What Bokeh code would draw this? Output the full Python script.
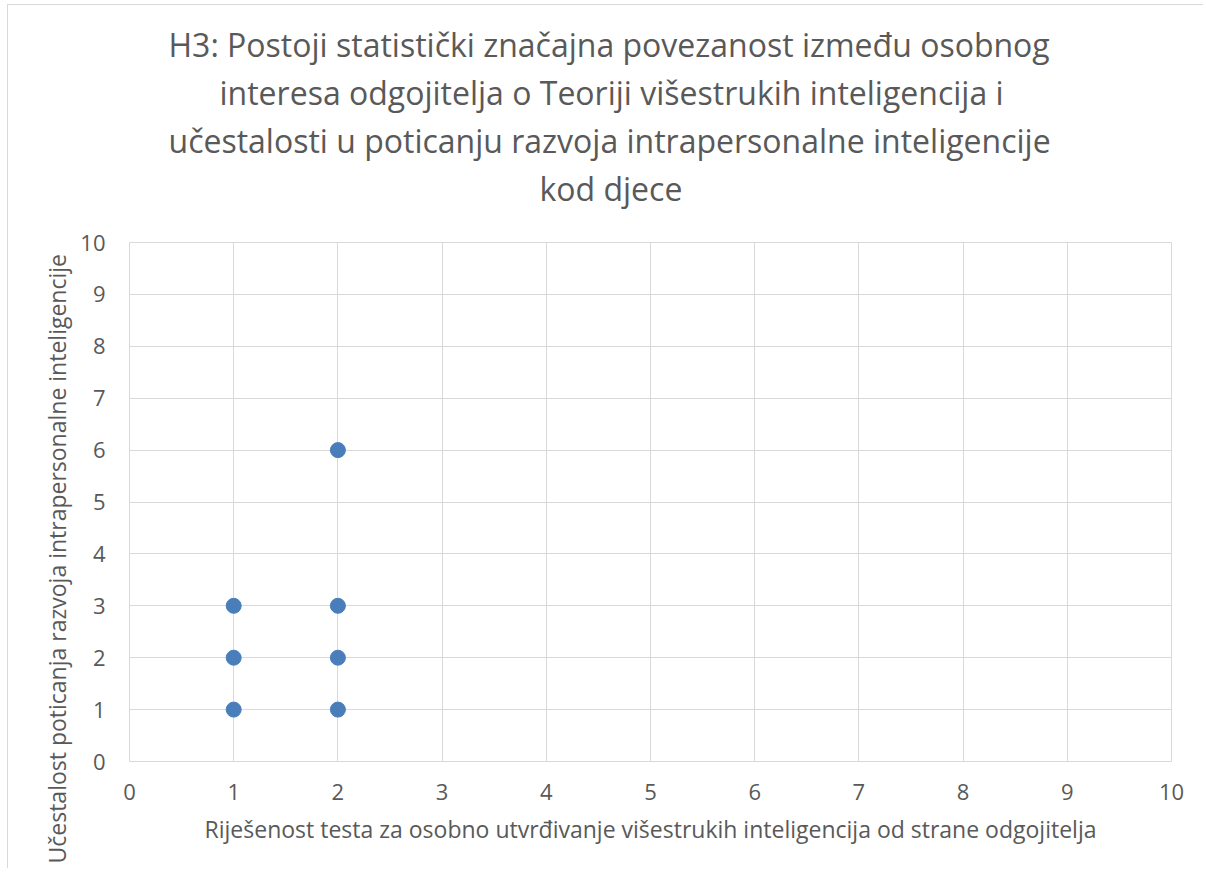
import math
from bokeh.plotting import figure
from bokeh.models import Range1d, Title, FixedTicker
from bokeh.embed import file_html
from bokeh.resources import INLINE

# Data
x_vals = [1, 1, 1, 2, 2, 2, 2]
y_vals = [1, 2, 3, 1, 2, 3, 6]
ticks = list(range(0, 11))
title_lines = [
    "H3: Postoji statistički značajna povezanost između osobnog",
    "interesa odgojitelja o Teoriji višestrukih inteligencija i",
    "učestalosti u poticanju razvoja intrapersonalne inteligencije",
    "kod djece",
]
# left offsets (px from plot-area left) that centre each line on the whole chart
title_offsets = [39, 90, 39, 410]
x_label = "Riješenost testa za osobno utvrđivanje višestrukih inteligencija od strane odgojitelja"
y_label = "Učestalost poticanja razvoja intrapersonalne inteligencije"

FONT = "Open Sans"
GREY = "#595959"
GRID = "#d9d9d9"

p = figure(width=1196, height=864, output_backend="svg", toolbar_location=None,
           x_range=Range1d(0, 10), y_range=Range1d(0, 10),
           min_border_left=121, min_border_right=33, min_border_top=237, min_border_bottom=108,
           title=None)
p.margin = (4, 0, 0, 7)
p.styles = {"border-left": "1px solid #d9d9d9", "border-top": "1px solid #d9d9d9"}

p.scatter(x_vals, y_vals, size=15, color="#4a7ebb")

for ax in (p.xaxis[0], p.yaxis[0]):
    ax.ticker = FixedTicker(ticks=ticks)
    ax.axis_line_color = None
    ax.major_tick_line_color = None
    ax.minor_tick_line_color = None
    ax.major_label_text_font = FONT
    ax.major_label_text_font_size = "22px"
    ax.major_label_text_color = GREY

p.xaxis.major_label_standoff = 16
p.yaxis.major_label_standoff = 18
p.xaxis.axis_label = x_label
p.xaxis.axis_label_text_font = FONT
p.xaxis.axis_label_text_font_size = "23px"
p.xaxis.axis_label_text_font_style = "normal"
p.xaxis.axis_label_text_color = GREY
p.xaxis.axis_label_standoff = 10

p.grid.grid_line_color = GRID
p.grid.grid_line_width = 1
p.outline_line_color = GRID

# y-axis title, starting below the frame as in the reference
p.add_layout(Title(text=y_label, align="left", offset=-102, standoff=10,
                   text_font=FONT, text_font_size="23px", text_font_style="normal",
                   text_color=GREY), "left")

# Chart title lines (bottom-most added first); the bottom line gets extra padding below
for i, (line, off) in enumerate(reversed(list(zip(title_lines, title_offsets)))):
    t = Title(text=line, align="left", offset=off, standoff=3,
              text_font=FONT, text_font_size="32px", text_font_style="normal",
              text_color=GREY)
    if i == 0:
        t.padding = (0, 0, 0, 31)
    p.add_layout(t, "above")

p.background_fill_color = "white"
p.border_fill_color = "white"

open("out.html", "w").write(file_html(p, INLINE))
